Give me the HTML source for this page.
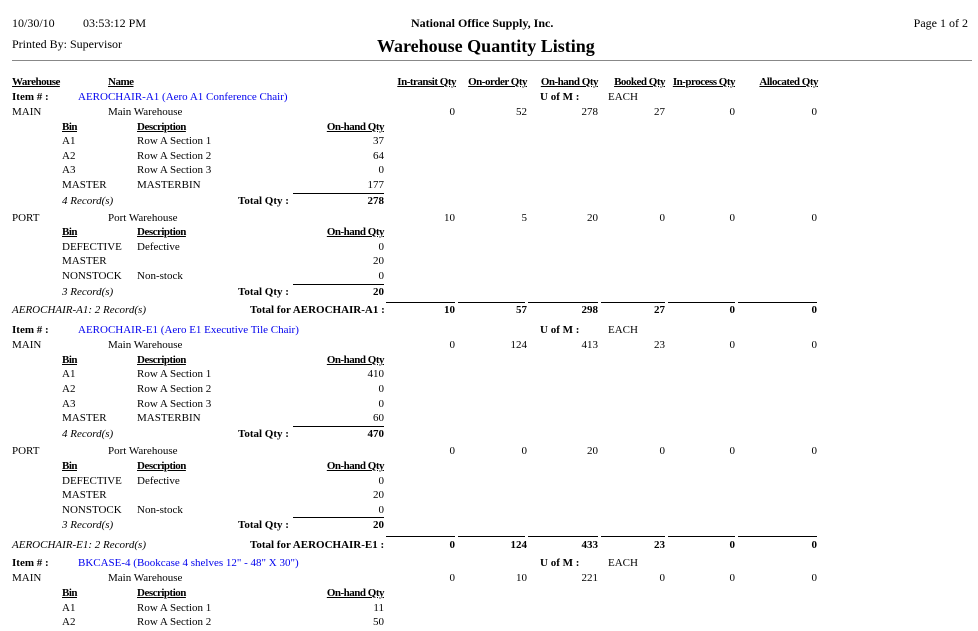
<!DOCTYPE html>
<html><head><meta charset="utf-8"><style>
body{margin:0;width:978px;height:631px;background:#fff;position:relative;overflow:hidden;font-family:"Liberation Serif",serif;font-size:11px;color:#000}
div{position:absolute;white-space:nowrap;line-height:14px;height:14px}
.b{font-weight:bold}.u{text-decoration:underline}.i{font-style:italic}.bl{color:#0000ee}
.b.u{letter-spacing:-0.5px}
.ln{height:0;border-top:1px solid #000}
</style></head><body>
<div style="left:12px;top:16px;font-size:12px">10/30/10</div>
<div style="left:83px;top:16px;font-size:12px">03:53:12 PM</div>
<div class="b" style="left:411px;top:16px;font-size:12px">National Office Supply, Inc.</div>
<div style="right:10px;top:16px;font-size:12px">Page 1 of 2</div>
<div style="left:12px;top:37px;font-size:12px">Printed By: Supervisor</div>
<div class="b" style="left:377px;top:36px;font-size:18px;line-height:20px;height:20px">Warehouse Quantity Listing</div>
<div class="ln" style="left:12px;top:60px;width:960px;border-color:#888"></div>

<div class="b u" style="left:12px;top:75px">Warehouse</div>
<div class="b u" style="left:108px;top:75px">Name</div>
<div class="b u" style="right:522px;top:75px">In-transit Qty</div>
<div class="b u" style="right:451px;top:75px">On-order Qty</div>
<div class="b u" style="right:380px;top:75px">On-hand Qty</div>
<div class="b u" style="right:313px;top:75px">Booked Qty</div>
<div class="b u" style="right:243px;top:75px">In-process Qty</div>
<div class="b u" style="right:160px;top:75px">Allocated Qty</div>

<div class="b" style="left:12px;top:90px">Item # :</div>
<div class="bl" style="left:78px;top:90px">AEROCHAIR-A1 (Aero A1 Conference Chair)</div>
<div class="b" style="left:540px;top:90px">U of M :</div>
<div style="left:608px;top:90px">EACH</div>

<div style="left:12px;top:105px">MAIN</div><div style="left:108px;top:105px">Main Warehouse</div>
<div style="right:523px;top:105px">0</div><div style="right:451px;top:105px">52</div><div style="right:380px;top:105px">278</div><div style="right:313px;top:105px">27</div><div style="right:243px;top:105px">0</div><div style="right:161px;top:105px">0</div>
<div class="b u" style="left:62px;top:120px">Bin</div><div class="b u" style="left:137px;top:120px">Description</div><div class="b u" style="right:594px;top:120px">On-hand Qty</div>
<div style="left:62px;top:134px">A1</div><div style="left:137px;top:134px">Row A Section 1</div><div style="right:594px;top:134px">37</div>
<div style="left:62px;top:149px">A2</div><div style="left:137px;top:149px">Row A Section 2</div><div style="right:594px;top:149px">64</div>
<div style="left:62px;top:163px">A3</div><div style="left:137px;top:163px">Row A Section 3</div><div style="right:594px;top:163px">0</div>
<div style="left:62px;top:178px">MASTER</div><div style="left:137px;top:178px">MASTERBIN</div><div style="right:594px;top:178px">177</div>
<div class="ln" style="left:293px;top:193px;width:91px"></div>
<div class="i" style="left:62px;top:194px">4 Record(s)</div><div class="b" style="left:238px;top:194px">Total Qty :</div><div class="b" style="right:594px;top:194px">278</div>

<div style="left:12px;top:211px">PORT</div><div style="left:108px;top:211px">Port Warehouse</div>
<div style="right:523px;top:211px">10</div><div style="right:451px;top:211px">5</div><div style="right:380px;top:211px">20</div><div style="right:313px;top:211px">0</div><div style="right:243px;top:211px">0</div><div style="right:161px;top:211px">0</div>
<div class="b u" style="left:62px;top:225px">Bin</div><div class="b u" style="left:137px;top:225px">Description</div><div class="b u" style="right:594px;top:225px">On-hand Qty</div>
<div style="left:62px;top:240px">DEFECTIVE</div><div style="left:137px;top:240px">Defective</div><div style="right:594px;top:240px">0</div>
<div style="left:62px;top:254px">MASTER</div><div style="right:594px;top:254px">20</div>
<div style="left:62px;top:269px">NONSTOCK</div><div style="left:137px;top:269px">Non-stock</div><div style="right:594px;top:269px">0</div>
<div class="ln" style="left:293px;top:284px;width:91px"></div>
<div class="i" style="left:62px;top:285px">3 Record(s)</div><div class="b" style="left:238px;top:285px">Total Qty :</div><div class="b" style="right:594px;top:285px">20</div>

<div class="ln" style="left:386px;top:302px;width:69px"></div><div class="ln" style="left:458px;top:302px;width:67px"></div><div class="ln" style="left:528px;top:302px;width:70px"></div><div class="ln" style="left:601px;top:302px;width:64px"></div><div class="ln" style="left:668px;top:302px;width:67px"></div><div class="ln" style="left:738px;top:302px;width:79px"></div>
<div class="i" style="left:12px;top:303px">AEROCHAIR-A1: 2 Record(s)</div><div class="b" style="left:250px;top:303px">Total for AEROCHAIR-A1 :</div>
<div class="b" style="right:523px;top:303px">10</div><div class="b" style="right:451px;top:303px">57</div><div class="b" style="right:380px;top:303px">298</div><div class="b" style="right:313px;top:303px">27</div><div class="b" style="right:243px;top:303px">0</div><div class="b" style="right:161px;top:303px">0</div>

<div class="b" style="left:12px;top:323px">Item # :</div>
<div class="bl" style="left:78px;top:323px">AEROCHAIR-E1 (Aero E1 Executive Tile Chair)</div>
<div class="b" style="left:540px;top:323px">U of M :</div>
<div style="left:608px;top:323px">EACH</div>
<div style="left:12px;top:338px">MAIN</div><div style="left:108px;top:338px">Main Warehouse</div>
<div style="right:523px;top:338px">0</div><div style="right:451px;top:338px">124</div><div style="right:380px;top:338px">413</div><div style="right:313px;top:338px">23</div><div style="right:243px;top:338px">0</div><div style="right:161px;top:338px">0</div>
<div class="b u" style="left:62px;top:353px">Bin</div><div class="b u" style="left:137px;top:353px">Description</div><div class="b u" style="right:594px;top:353px">On-hand Qty</div>
<div style="left:62px;top:367px">A1</div><div style="left:137px;top:367px">Row A Section 1</div><div style="right:594px;top:367px">410</div>
<div style="left:62px;top:382px">A2</div><div style="left:137px;top:382px">Row A Section 2</div><div style="right:594px;top:382px">0</div>
<div style="left:62px;top:397px">A3</div><div style="left:137px;top:397px">Row A Section 3</div><div style="right:594px;top:397px">0</div>
<div style="left:62px;top:411px">MASTER</div><div style="left:137px;top:411px">MASTERBIN</div><div style="right:594px;top:411px">60</div>
<div class="ln" style="left:293px;top:426px;width:91px"></div>
<div class="i" style="left:62px;top:427px">4 Record(s)</div><div class="b" style="left:238px;top:427px">Total Qty :</div><div class="b" style="right:594px;top:427px">470</div>

<div style="left:12px;top:444px">PORT</div><div style="left:108px;top:444px">Port Warehouse</div>
<div style="right:523px;top:444px">0</div><div style="right:451px;top:444px">0</div><div style="right:380px;top:444px">20</div><div style="right:313px;top:444px">0</div><div style="right:243px;top:444px">0</div><div style="right:161px;top:444px">0</div>
<div class="b u" style="left:62px;top:459px">Bin</div><div class="b u" style="left:137px;top:459px">Description</div><div class="b u" style="right:594px;top:459px">On-hand Qty</div>
<div style="left:62px;top:474px">DEFECTIVE</div><div style="left:137px;top:474px">Defective</div><div style="right:594px;top:474px">0</div>
<div style="left:62px;top:488px">MASTER</div><div style="right:594px;top:488px">20</div>
<div style="left:62px;top:503px">NONSTOCK</div><div style="left:137px;top:503px">Non-stock</div><div style="right:594px;top:503px">0</div>
<div class="ln" style="left:293px;top:517px;width:91px"></div>
<div class="i" style="left:62px;top:518px">3 Record(s)</div><div class="b" style="left:238px;top:518px">Total Qty :</div><div class="b" style="right:594px;top:518px">20</div>

<div class="ln" style="left:386px;top:536px;width:69px"></div><div class="ln" style="left:458px;top:536px;width:67px"></div><div class="ln" style="left:528px;top:536px;width:70px"></div><div class="ln" style="left:601px;top:536px;width:64px"></div><div class="ln" style="left:668px;top:536px;width:67px"></div><div class="ln" style="left:738px;top:536px;width:79px"></div>
<div class="i" style="left:12px;top:538px">AEROCHAIR-E1: 2 Record(s)</div><div class="b" style="left:250px;top:538px">Total for AEROCHAIR-E1 :</div>
<div class="b" style="right:523px;top:538px">0</div><div class="b" style="right:451px;top:538px">124</div><div class="b" style="right:380px;top:538px">433</div><div class="b" style="right:313px;top:538px">23</div><div class="b" style="right:243px;top:538px">0</div><div class="b" style="right:161px;top:538px">0</div>

<div class="b" style="left:12px;top:556px">Item # :</div>
<div class="bl" style="left:78px;top:556px">BKCASE-4 (Bookcase 4 shelves 12" - 48" X 30")</div>
<div class="b" style="left:540px;top:556px">U of M :</div>
<div style="left:608px;top:556px">EACH</div>
<div style="left:12px;top:571px">MAIN</div><div style="left:108px;top:571px">Main Warehouse</div>
<div style="right:523px;top:571px">0</div><div style="right:451px;top:571px">10</div><div style="right:380px;top:571px">221</div><div style="right:313px;top:571px">0</div><div style="right:243px;top:571px">0</div><div style="right:161px;top:571px">0</div>
<div class="b u" style="left:62px;top:586px">Bin</div><div class="b u" style="left:137px;top:586px">Description</div><div class="b u" style="right:594px;top:586px">On-hand Qty</div>
<div style="left:62px;top:601px">A1</div><div style="left:137px;top:601px">Row A Section 1</div><div style="right:594px;top:601px">11</div>
<div style="left:62px;top:615px">A2</div><div style="left:137px;top:615px">Row A Section 2</div><div style="right:594px;top:615px">50</div>
</body></html>
